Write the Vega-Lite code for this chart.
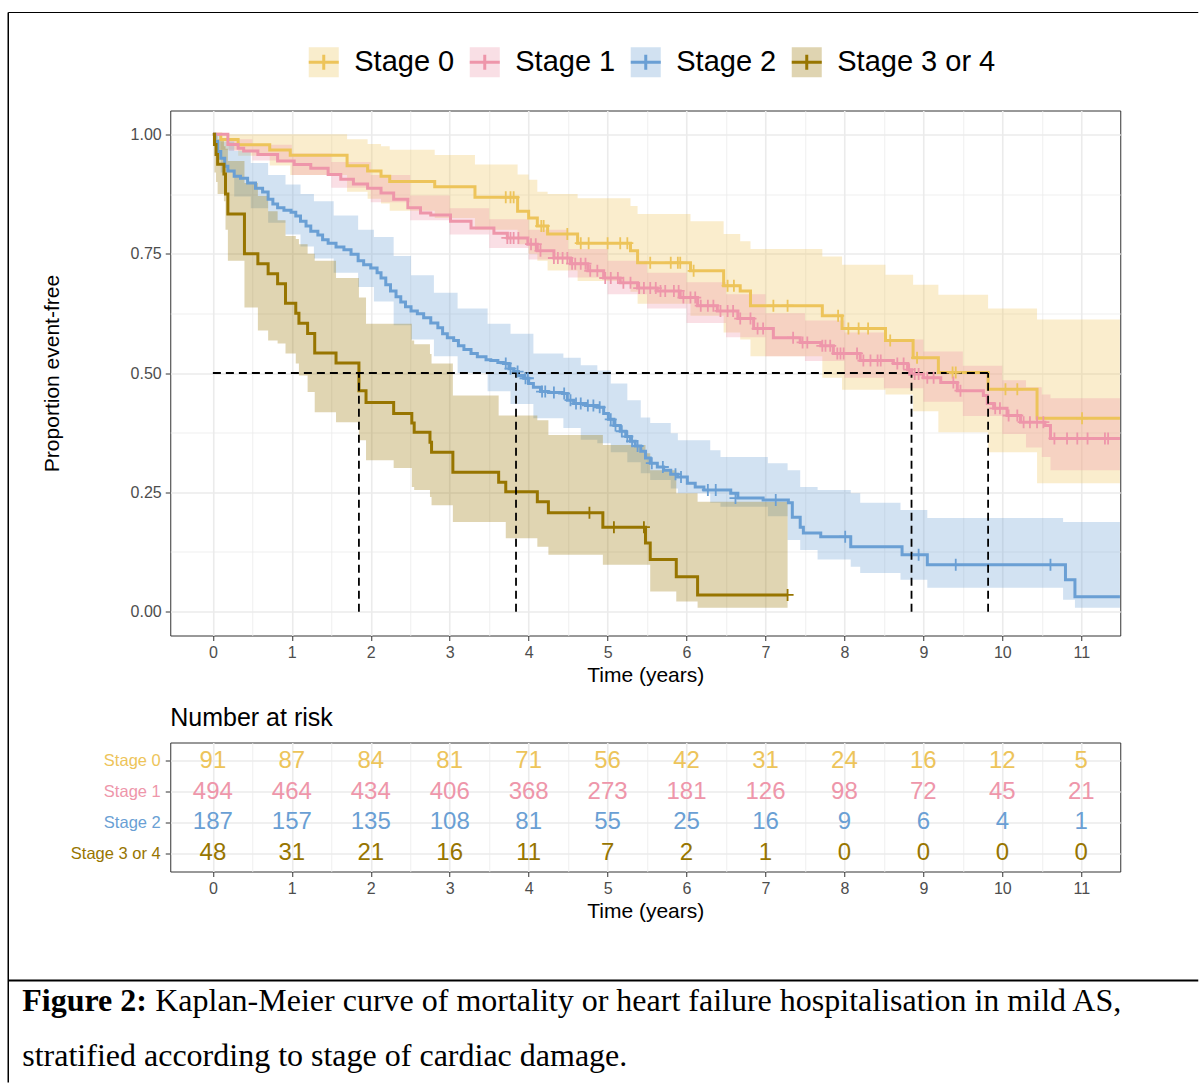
{
"$schema": "https://vega.github.io/schema/vega-lite/v6.json",
"background": "white",
"padding": {"left": 7.25, "top": 11.5, "right": 0, "bottom": 0},
"bounds": "flush",
"spacing": 107,
"resolve": {"scale": {"x": "independent", "y": "independent"}},
"config": {
  "font": "Liberation Sans",
  "view": {"stroke": "#333333", "strokeWidth": 1},
  "axis": {"domain": false, "labelFont": "Liberation Sans", "labelColor": "#4D4D4D", "labelFontSize": 16, "tickColor": "#333333", "tickSize": 5, "tickWidth": 1, "titleFont": "Liberation Sans", "titleFontSize": 21, "titleFontWeight": "normal", "titleColor": "#000000", "gridColor": "#EBEBEB", "labelOverlap": false, "labelFlush": false}
},
"datasets": {
"line": [
{"stage":"Stage 0","t":0,"s":1},{"stage":"Stage 0","t":0.10,"s":0.989},{"stage":"Stage 0","t":0.32,"s":0.978},{"stage":"Stage 0","t":0.72,"s":0.967},{"stage":"Stage 0","t":0.98,"s":0.956},{"stage":"Stage 0","t":1.70,"s":0.934},{"stage":"Stage 0","t":1.96,"s":0.923},{"stage":"Stage 0","t":2.13,"s":0.912},{"stage":"Stage 0","t":2.24,"s":0.901},{"stage":"Stage 0","t":2.81,"s":0.890},{"stage":"Stage 0","t":3.32,"s":0.868},{"stage":"Stage 0","t":3.86,"s":0.839},{"stage":"Stage 0","t":4.00,"s":0.825},{"stage":"Stage 0","t":4.11,"s":0.808},{"stage":"Stage 0","t":4.24,"s":0.791},{"stage":"Stage 0","t":4.62,"s":0.772},{"stage":"Stage 0","t":5.29,"s":0.756},{"stage":"Stage 0","t":5.38,"s":0.731},{"stage":"Stage 0","t":6.05,"s":0.714},{"stage":"Stage 0","t":6.47,"s":0.683},{"stage":"Stage 0","t":6.68,"s":0.672},{"stage":"Stage 0","t":6.81,"s":0.641},{"stage":"Stage 0","t":7.72,"s":0.620},{"stage":"Stage 0","t":7.97,"s":0.593},{"stage":"Stage 0","t":8.52,"s":0.568},{"stage":"Stage 0","t":8.87,"s":0.532},{"stage":"Stage 0","t":9.19,"s":0.501},{"stage":"Stage 0","t":9.82,"s":0.466},{"stage":"Stage 0","t":10.44,"s":0.405},{"stage":"Stage 0","t":11.49,"s":0.405},
{"stage":"Stage 1","t":0,"s":1},{"stage":"Stage 1","t":0.19,"s":0.979},{"stage":"Stage 1","t":0.32,"s":0.971},{"stage":"Stage 1","t":0.39,"s":0.965},{"stage":"Stage 1","t":0.57,"s":0.958},{"stage":"Stage 1","t":0.82,"s":0.944},{"stage":"Stage 1","t":1.03,"s":0.937},{"stage":"Stage 1","t":1.24,"s":0.929},{"stage":"Stage 1","t":1.46,"s":0.916},{"stage":"Stage 1","t":1.62,"s":0.906},{"stage":"Stage 1","t":1.78,"s":0.896},{"stage":"Stage 1","t":1.96,"s":0.887},{"stage":"Stage 1","t":2.13,"s":0.877},{"stage":"Stage 1","t":2.29,"s":0.864},{"stage":"Stage 1","t":2.47,"s":0.846},{"stage":"Stage 1","t":2.63,"s":0.835},{"stage":"Stage 1","t":2.76,"s":0.831},{"stage":"Stage 1","t":3.01,"s":0.818},{"stage":"Stage 1","t":3.27,"s":0.804},{"stage":"Stage 1","t":3.56,"s":0.793},{"stage":"Stage 1","t":3.73,"s":0.783},{"stage":"Stage 1","t":3.99,"s":0.770},{"stage":"Stage 1","t":4.11,"s":0.756},{"stage":"Stage 1","t":4.32,"s":0.741},{"stage":"Stage 1","t":4.53,"s":0.729},{"stage":"Stage 1","t":4.75,"s":0.714},{"stage":"Stage 1","t":4.95,"s":0.699},{"stage":"Stage 1","t":5.16,"s":0.689},{"stage":"Stage 1","t":5.38,"s":0.678},{"stage":"Stage 1","t":5.63,"s":0.672},{"stage":"Stage 1","t":5.92,"s":0.658},{"stage":"Stage 1","t":6.14,"s":0.641},{"stage":"Stage 1","t":6.39,"s":0.630},{"stage":"Stage 1","t":6.65,"s":0.614},{"stage":"Stage 1","t":6.85,"s":0.593},{"stage":"Stage 1","t":7.10,"s":0.574},{"stage":"Stage 1","t":7.44,"s":0.564},{"stage":"Stage 1","t":7.70,"s":0.557},{"stage":"Stage 1","t":7.86,"s":0.541},{"stage":"Stage 1","t":8.20,"s":0.526},{"stage":"Stage 1","t":8.62,"s":0.520},{"stage":"Stage 1","t":8.80,"s":0.507},{"stage":"Stage 1","t":8.85,"s":0.498},{"stage":"Stage 1","t":9.00,"s":0.490},{"stage":"Stage 1","t":9.22,"s":0.480},{"stage":"Stage 1","t":9.43,"s":0.463},{"stage":"Stage 1","t":9.76,"s":0.453},{"stage":"Stage 1","t":9.81,"s":0.436},{"stage":"Stage 1","t":9.89,"s":0.426},{"stage":"Stage 1","t":10.06,"s":0.411},{"stage":"Stage 1","t":10.23,"s":0.397},{"stage":"Stage 1","t":10.54,"s":0.390},{"stage":"Stage 1","t":10.61,"s":0.363},{"stage":"Stage 1","t":11.49,"s":0.363},
{"stage":"Stage 2","t":0,"s":1},{"stage":"Stage 2","t":0.025,"s":0.985},{"stage":"Stage 2","t":0.06,"s":0.964},{"stage":"Stage 2","t":0.10,"s":0.950},{"stage":"Stage 2","t":0.15,"s":0.933},{"stage":"Stage 2","t":0.19,"s":0.923},{"stage":"Stage 2","t":0.27,"s":0.912},{"stage":"Stage 2","t":0.35,"s":0.908},{"stage":"Stage 2","t":0.44,"s":0.898},{"stage":"Stage 2","t":0.54,"s":0.887},{"stage":"Stage 2","t":0.63,"s":0.879},{"stage":"Stage 2","t":0.70,"s":0.864},{"stage":"Stage 2","t":0.76,"s":0.854},{"stage":"Stage 2","t":0.82,"s":0.846},{"stage":"Stage 2","t":0.90,"s":0.841},{"stage":"Stage 2","t":0.99,"s":0.837},{"stage":"Stage 2","t":1.05,"s":0.829},{"stage":"Stage 2","t":1.11,"s":0.818},{"stage":"Stage 2","t":1.18,"s":0.808},{"stage":"Stage 2","t":1.24,"s":0.797},{"stage":"Stage 2","t":1.33,"s":0.789},{"stage":"Stage 2","t":1.39,"s":0.779},{"stage":"Stage 2","t":1.46,"s":0.772},{"stage":"Stage 2","t":1.56,"s":0.764},{"stage":"Stage 2","t":1.66,"s":0.758},{"stage":"Stage 2","t":1.75,"s":0.749},{"stage":"Stage 2","t":1.84,"s":0.735},{"stage":"Stage 2","t":1.91,"s":0.727},{"stage":"Stage 2","t":2.00,"s":0.720},{"stage":"Stage 2","t":2.08,"s":0.710},{"stage":"Stage 2","t":2.13,"s":0.699},{"stage":"Stage 2","t":2.19,"s":0.685},{"stage":"Stage 2","t":2.25,"s":0.672},{"stage":"Stage 2","t":2.32,"s":0.660},{"stage":"Stage 2","t":2.38,"s":0.649},{"stage":"Stage 2","t":2.44,"s":0.639},{"stage":"Stage 2","t":2.51,"s":0.630},{"stage":"Stage 2","t":2.59,"s":0.624},{"stage":"Stage 2","t":2.67,"s":0.616},{"stage":"Stage 2","t":2.76,"s":0.605},{"stage":"Stage 2","t":2.85,"s":0.595},{"stage":"Stage 2","t":2.91,"s":0.582},{"stage":"Stage 2","t":2.97,"s":0.574},{"stage":"Stage 2","t":3.05,"s":0.568},{"stage":"Stage 2","t":3.11,"s":0.557},{"stage":"Stage 2","t":3.18,"s":0.549},{"stage":"Stage 2","t":3.27,"s":0.541},{"stage":"Stage 2","t":3.35,"s":0.534},{"stage":"Stage 2","t":3.46,"s":0.528},{"stage":"Stage 2","t":3.52,"s":0.526},{"stage":"Stage 2","t":3.61,"s":0.522},{"stage":"Stage 2","t":3.68,"s":0.520},{"stage":"Stage 2","t":3.75,"s":0.509},{"stage":"Stage 2","t":3.81,"s":0.503},{"stage":"Stage 2","t":3.87,"s":0.495},{"stage":"Stage 2","t":3.94,"s":0.489},{"stage":"Stage 2","t":4.00,"s":0.478},{"stage":"Stage 2","t":4.06,"s":0.470},{"stage":"Stage 2","t":4.15,"s":0.461},{"stage":"Stage 2","t":4.25,"s":0.459},{"stage":"Stage 2","t":4.43,"s":0.457},{"stage":"Stage 2","t":4.49,"s":0.443},{"stage":"Stage 2","t":4.57,"s":0.436},{"stage":"Stage 2","t":4.72,"s":0.432},{"stage":"Stage 2","t":4.87,"s":0.428},{"stage":"Stage 2","t":4.95,"s":0.415},{"stage":"Stage 2","t":5.01,"s":0.403},{"stage":"Stage 2","t":5.08,"s":0.390},{"stage":"Stage 2","t":5.16,"s":0.378},{"stage":"Stage 2","t":5.23,"s":0.367},{"stage":"Stage 2","t":5.29,"s":0.357},{"stage":"Stage 2","t":5.35,"s":0.347},{"stage":"Stage 2","t":5.42,"s":0.336},{"stage":"Stage 2","t":5.48,"s":0.322},{"stage":"Stage 2","t":5.54,"s":0.311},{"stage":"Stage 2","t":5.63,"s":0.303},{"stage":"Stage 2","t":5.71,"s":0.296},{"stage":"Stage 2","t":5.80,"s":0.288},{"stage":"Stage 2","t":5.89,"s":0.282},{"stage":"Stage 2","t":6.01,"s":0.269},{"stage":"Stage 2","t":6.11,"s":0.261},{"stage":"Stage 2","t":6.22,"s":0.255},{"stage":"Stage 2","t":6.56,"s":0.248},{"stage":"Stage 2","t":6.65,"s":0.238},{"stage":"Stage 2","t":6.97,"s":0.234},{"stage":"Stage 2","t":7.29,"s":0.228},{"stage":"Stage 2","t":7.34,"s":0.198},{"stage":"Stage 2","t":7.44,"s":0.177},{"stage":"Stage 2","t":7.48,"s":0.165},{"stage":"Stage 2","t":7.70,"s":0.157},{"stage":"Stage 2","t":8.08,"s":0.136},{"stage":"Stage 2","t":8.73,"s":0.119},{"stage":"Stage 2","t":9.05,"s":0.098},{"stage":"Stage 2","t":10.80,"s":0.067},{"stage":"Stage 2","t":10.92,"s":0.031},{"stage":"Stage 2","t":11.49,"s":0.031},
{"stage":"Stage 3 or 4","t":0,"s":1},{"stage":"Stage 3 or 4","t":0.02,"s":0.979},{"stage":"Stage 3 or 4","t":0.04,"s":0.958},{"stage":"Stage 3 or 4","t":0.06,"s":0.9375},{"stage":"Stage 3 or 4","t":0.14,"s":0.917},{"stage":"Stage 3 or 4","t":0.16,"s":0.875},{"stage":"Stage 3 or 4","t":0.19,"s":0.833},{"stage":"Stage 3 or 4","t":0.40,"s":0.75},{"stage":"Stage 3 or 4","t":0.57,"s":0.729},{"stage":"Stage 3 or 4","t":0.70,"s":0.708},{"stage":"Stage 3 or 4","t":0.82,"s":0.687},{"stage":"Stage 3 or 4","t":0.92,"s":0.646},{"stage":"Stage 3 or 4","t":1.05,"s":0.625},{"stage":"Stage 3 or 4","t":1.09,"s":0.604},{"stage":"Stage 3 or 4","t":1.20,"s":0.583},{"stage":"Stage 3 or 4","t":1.29,"s":0.542},{"stage":"Stage 3 or 4","t":1.56,"s":0.521},{"stage":"Stage 3 or 4","t":1.85,"s":0.463},{"stage":"Stage 3 or 4","t":1.94,"s":0.438},{"stage":"Stage 3 or 4","t":2.29,"s":0.415},{"stage":"Stage 3 or 4","t":2.52,"s":0.395},{"stage":"Stage 3 or 4","t":2.55,"s":0.376},{"stage":"Stage 3 or 4","t":2.75,"s":0.355},{"stage":"Stage 3 or 4","t":2.77,"s":0.334},{"stage":"Stage 3 or 4","t":3.04,"s":0.292},{"stage":"Stage 3 or 4","t":3.62,"s":0.271},{"stage":"Stage 3 or 4","t":3.71,"s":0.251},{"stage":"Stage 3 or 4","t":4.11,"s":0.230},{"stage":"Stage 3 or 4","t":4.25,"s":0.207},{"stage":"Stage 3 or 4","t":4.94,"s":0.177},{"stage":"Stage 3 or 4","t":5.48,"s":0.144},{"stage":"Stage 3 or 4","t":5.54,"s":0.109},{"stage":"Stage 3 or 4","t":5.87,"s":0.073},{"stage":"Stage 3 or 4","t":6.14,"s":0.035},{"stage":"Stage 3 or 4","t":7.28,"s":0.035}
],
"band": [
{"stage":"Stage 0","t":0,"lo":1,"hi":1},{"stage":"Stage 0","t":0.10,"lo":0.968,"hi":1},{"stage":"Stage 0","t":0.32,"lo":0.955,"hi":1},{"stage":"Stage 0","t":0.72,"lo":0.935,"hi":1},{"stage":"Stage 0","t":0.98,"lo":0.915,"hi":1},{"stage":"Stage 0","t":1.70,"lo":0.88,"hi":0.99},{"stage":"Stage 0","t":1.96,"lo":0.865,"hi":0.98},{"stage":"Stage 0","t":2.13,"lo":0.855,"hi":0.975},{"stage":"Stage 0","t":2.24,"lo":0.84,"hi":0.968},{"stage":"Stage 0","t":2.81,"lo":0.825,"hi":0.957},{"stage":"Stage 0","t":3.32,"lo":0.80,"hi":0.937},{"stage":"Stage 0","t":3.86,"lo":0.77,"hi":0.916},{"stage":"Stage 0","t":4.00,"lo":0.75,"hi":0.905},{"stage":"Stage 0","t":4.11,"lo":0.735,"hi":0.88},{"stage":"Stage 0","t":4.24,"lo":0.715,"hi":0.875},{"stage":"Stage 0","t":4.62,"lo":0.693,"hi":0.866},{"stage":"Stage 0","t":5.29,"lo":0.67,"hi":0.85},{"stage":"Stage 0","t":5.38,"lo":0.645,"hi":0.833},{"stage":"Stage 0","t":6.05,"lo":0.62,"hi":0.818},{"stage":"Stage 0","t":6.47,"lo":0.585,"hi":0.791},{"stage":"Stage 0","t":6.68,"lo":0.57,"hi":0.776},{"stage":"Stage 0","t":6.81,"lo":0.535,"hi":0.76},{"stage":"Stage 0","t":7.72,"lo":0.49,"hi":0.744},{"stage":"Stage 0","t":7.97,"lo":0.465,"hi":0.727},{"stage":"Stage 0","t":8.52,"lo":0.455,"hi":0.706},{"stage":"Stage 0","t":8.87,"lo":0.42,"hi":0.685},{"stage":"Stage 0","t":9.19,"lo":0.376,"hi":0.664},{"stage":"Stage 0","t":9.82,"lo":0.334,"hi":0.635},{"stage":"Stage 0","t":10.44,"lo":0.269,"hi":0.612},{"stage":"Stage 0","t":11.49,"lo":0.269,"hi":0.612},
{"stage":"Stage 1","t":0,"lo":1,"hi":1},{"stage":"Stage 1","t":0.2,"lo":0.965,"hi":0.99},{"stage":"Stage 1","t":0.5,"lo":0.945,"hi":0.978},{"stage":"Stage 1","t":1.0,"lo":0.915,"hi":0.96},{"stage":"Stage 1","t":1.5,"lo":0.888,"hi":0.942},{"stage":"Stage 1","t":2.0,"lo":0.858,"hi":0.915},{"stage":"Stage 1","t":2.5,"lo":0.82,"hi":0.872},{"stage":"Stage 1","t":3.0,"lo":0.79,"hi":0.845},{"stage":"Stage 1","t":3.5,"lo":0.762,"hi":0.822},{"stage":"Stage 1","t":4.0,"lo":0.738,"hi":0.80},{"stage":"Stage 1","t":4.5,"lo":0.70,"hi":0.76},{"stage":"Stage 1","t":5.0,"lo":0.665,"hi":0.735},{"stage":"Stage 1","t":5.5,"lo":0.635,"hi":0.71},{"stage":"Stage 1","t":6.0,"lo":0.605,"hi":0.69},{"stage":"Stage 1","t":6.5,"lo":0.575,"hi":0.665},{"stage":"Stage 1","t":7.0,"lo":0.535,"hi":0.625},{"stage":"Stage 1","t":7.5,"lo":0.525,"hi":0.61},{"stage":"Stage 1","t":8.0,"lo":0.49,"hi":0.585},{"stage":"Stage 1","t":8.5,"lo":0.468,"hi":0.57},{"stage":"Stage 1","t":9.0,"lo":0.44,"hi":0.545},{"stage":"Stage 1","t":9.5,"lo":0.41,"hi":0.515},{"stage":"Stage 1","t":10.0,"lo":0.372,"hi":0.485},{"stage":"Stage 1","t":10.3,"lo":0.344,"hi":0.47},{"stage":"Stage 1","t":10.5,"lo":0.324,"hi":0.455},{"stage":"Stage 1","t":10.61,"lo":0.296,"hi":0.447},{"stage":"Stage 1","t":11.49,"lo":0.296,"hi":0.447},
{"stage":"Stage 2","t":0,"lo":1,"hi":1},{"stage":"Stage 2","t":0.04,"lo":0.96,"hi":1},{"stage":"Stage 2","t":0.10,"lo":0.92,"hi":0.985},{"stage":"Stage 2","t":0.27,"lo":0.87,"hi":0.965},{"stage":"Stage 2","t":0.48,"lo":0.845,"hi":0.94},{"stage":"Stage 2","t":0.70,"lo":0.815,"hi":0.915},{"stage":"Stage 2","t":0.92,"lo":0.79,"hi":0.895},{"stage":"Stage 2","t":1.11,"lo":0.765,"hi":0.875},{"stage":"Stage 2","t":1.28,"lo":0.74,"hi":0.86},{"stage":"Stage 2","t":1.53,"lo":0.71,"hi":0.83},{"stage":"Stage 2","t":1.84,"lo":0.68,"hi":0.80},{"stage":"Stage 2","t":2.04,"lo":0.65,"hi":0.785},{"stage":"Stage 2","t":2.29,"lo":0.60,"hi":0.745},{"stage":"Stage 2","t":2.51,"lo":0.57,"hi":0.705},{"stage":"Stage 2","t":2.80,"lo":0.535,"hi":0.668},{"stage":"Stage 2","t":3.10,"lo":0.50,"hi":0.635},{"stage":"Stage 2","t":3.48,"lo":0.462,"hi":0.603},{"stage":"Stage 2","t":3.77,"lo":0.435,"hi":0.582},{"stage":"Stage 2","t":4.06,"lo":0.405,"hi":0.541},{"stage":"Stage 2","t":4.44,"lo":0.385,"hi":0.532},{"stage":"Stage 2","t":4.66,"lo":0.36,"hi":0.516},{"stage":"Stage 2","t":4.87,"lo":0.353,"hi":0.505},{"stage":"Stage 2","t":5.04,"lo":0.334,"hi":0.478},{"stage":"Stage 2","t":5.25,"lo":0.313,"hi":0.443},{"stage":"Stage 2","t":5.42,"lo":0.29,"hi":0.407},{"stage":"Stage 2","t":5.54,"lo":0.276,"hi":0.395},{"stage":"Stage 2","t":5.80,"lo":0.258,"hi":0.374},{"stage":"Stage 2","t":5.89,"lo":0.248,"hi":0.359},{"stage":"Stage 2","t":6.30,"lo":0.228,"hi":0.338},{"stage":"Stage 2","t":6.43,"lo":0.22,"hi":0.324},{"stage":"Stage 2","t":7.03,"lo":0.20,"hi":0.311},{"stage":"Stage 2","t":7.28,"lo":0.15,"hi":0.296},{"stage":"Stage 2","t":7.44,"lo":0.129,"hi":0.261},{"stage":"Stage 2","t":7.66,"lo":0.109,"hi":0.255},{"stage":"Stage 2","t":8.08,"lo":0.094,"hi":0.248},{"stage":"Stage 2","t":8.20,"lo":0.081,"hi":0.228},{"stage":"Stage 2","t":8.71,"lo":0.067,"hi":0.213},{"stage":"Stage 2","t":9.05,"lo":0.05,"hi":0.196},{"stage":"Stage 2","t":10.77,"lo":0.025,"hi":0.188},{"stage":"Stage 2","t":10.92,"lo":0.008,"hi":0.188},{"stage":"Stage 2","t":11.49,"lo":0.008,"hi":0.186},
{"stage":"Stage 3 or 4","t":0,"lo":1,"hi":1},{"stage":"Stage 3 or 4","t":0.02,"lo":0.92,"hi":1},{"stage":"Stage 3 or 4","t":0.04,"lo":0.90,"hi":1},{"stage":"Stage 3 or 4","t":0.06,"lo":0.875,"hi":0.99},{"stage":"Stage 3 or 4","t":0.14,"lo":0.86,"hi":0.975},{"stage":"Stage 3 or 4","t":0.16,"lo":0.80,"hi":0.97},{"stage":"Stage 3 or 4","t":0.19,"lo":0.735,"hi":0.944},{"stage":"Stage 3 or 4","t":0.40,"lo":0.637,"hi":0.898},{"stage":"Stage 3 or 4","t":0.57,"lo":0.589,"hi":0.871},{"stage":"Stage 3 or 4","t":0.70,"lo":0.568,"hi":0.839},{"stage":"Stage 3 or 4","t":0.82,"lo":0.562,"hi":0.82},{"stage":"Stage 3 or 4","t":0.92,"lo":0.541,"hi":0.787},{"stage":"Stage 3 or 4","t":1.05,"lo":0.52,"hi":0.781},{"stage":"Stage 3 or 4","t":1.09,"lo":0.495,"hi":0.77},{"stage":"Stage 3 or 4","t":1.20,"lo":0.46,"hi":0.75},{"stage":"Stage 3 or 4","t":1.29,"lo":0.418,"hi":0.735},{"stage":"Stage 3 or 4","t":1.56,"lo":0.397,"hi":0.699},{"stage":"Stage 3 or 4","t":1.85,"lo":0.359,"hi":0.658},{"stage":"Stage 3 or 4","t":1.94,"lo":0.317,"hi":0.603},{"stage":"Stage 3 or 4","t":2.29,"lo":0.301,"hi":0.603},{"stage":"Stage 3 or 4","t":2.52,"lo":0.261,"hi":0.568},{"stage":"Stage 3 or 4","t":2.55,"lo":0.255,"hi":0.56},{"stage":"Stage 3 or 4","t":2.75,"lo":0.24,"hi":0.54},{"stage":"Stage 3 or 4","t":2.77,"lo":0.223,"hi":0.52},{"stage":"Stage 3 or 4","t":3.04,"lo":0.188,"hi":0.453},{"stage":"Stage 3 or 4","t":3.62,"lo":0.188,"hi":0.411},{"stage":"Stage 3 or 4","t":3.71,"lo":0.154,"hi":0.411},{"stage":"Stage 3 or 4","t":4.11,"lo":0.136,"hi":0.401},{"stage":"Stage 3 or 4","t":4.25,"lo":0.119,"hi":0.37},{"stage":"Stage 3 or 4","t":4.94,"lo":0.098,"hi":0.349},{"stage":"Stage 3 or 4","t":5.48,"lo":0.098,"hi":0.332},{"stage":"Stage 3 or 4","t":5.54,"lo":0.042,"hi":0.296},{"stage":"Stage 3 or 4","t":5.87,"lo":0.021,"hi":0.248},{"stage":"Stage 3 or 4","t":6.14,"lo":0.008,"hi":0.23},{"stage":"Stage 3 or 4","t":7.28,"lo":0.008,"hi":0.23}
],
"censor": [
{"stage":"Stage 0","t":3.71,"s":0.868},{"stage":"Stage 0","t":3.77,"s":0.868},{"stage":"Stage 0","t":3.81,"s":0.868},{"stage":"Stage 0","t":4.16,"s":0.808},{"stage":"Stage 0","t":4.19,"s":0.808},{"stage":"Stage 0","t":4.49,"s":0.791},{"stage":"Stage 0","t":4.66,"s":0.772},{"stage":"Stage 0","t":4.76,"s":0.772},{"stage":"Stage 0","t":5.00,"s":0.772},{"stage":"Stage 0","t":5.16,"s":0.772},{"stage":"Stage 0","t":5.25,"s":0.772},{"stage":"Stage 0","t":5.54,"s":0.731},{"stage":"Stage 0","t":5.80,"s":0.731},{"stage":"Stage 0","t":5.89,"s":0.731},{"stage":"Stage 0","t":5.92,"s":0.731},{"stage":"Stage 0","t":6.09,"s":0.714},{"stage":"Stage 0","t":6.52,"s":0.683},{"stage":"Stage 0","t":6.60,"s":0.683},{"stage":"Stage 0","t":7.10,"s":0.641},{"stage":"Stage 0","t":7.28,"s":0.641},{"stage":"Stage 0","t":7.92,"s":0.620},{"stage":"Stage 0","t":8.05,"s":0.593},{"stage":"Stage 0","t":8.18,"s":0.593},{"stage":"Stage 0","t":8.30,"s":0.593},{"stage":"Stage 0","t":8.58,"s":0.568},{"stage":"Stage 0","t":8.92,"s":0.532},{"stage":"Stage 0","t":9.37,"s":0.501},{"stage":"Stage 0","t":9.41,"s":0.501},{"stage":"Stage 0","t":10.04,"s":0.466},{"stage":"Stage 0","t":10.19,"s":0.466},{"stage":"Stage 0","t":11.01,"s":0.405},
{"stage":"Stage 1","t":3.73,"s":0.783},{"stage":"Stage 1","t":3.77,"s":0.783},{"stage":"Stage 1","t":3.81,"s":0.783},{"stage":"Stage 1","t":3.87,"s":0.783},{"stage":"Stage 1","t":4.03,"s":0.770},{"stage":"Stage 1","t":4.09,"s":0.770},{"stage":"Stage 1","t":4.15,"s":0.756},{"stage":"Stage 1","t":4.32,"s":0.741},{"stage":"Stage 1","t":4.37,"s":0.741},{"stage":"Stage 1","t":4.43,"s":0.741},{"stage":"Stage 1","t":4.49,"s":0.741},{"stage":"Stage 1","t":4.55,"s":0.729},{"stage":"Stage 1","t":4.59,"s":0.729},{"stage":"Stage 1","t":4.66,"s":0.729},{"stage":"Stage 1","t":4.72,"s":0.729},{"stage":"Stage 1","t":4.78,"s":0.714},{"stage":"Stage 1","t":4.87,"s":0.714},{"stage":"Stage 1","t":4.97,"s":0.699},{"stage":"Stage 1","t":5.04,"s":0.699},{"stage":"Stage 1","t":5.13,"s":0.699},{"stage":"Stage 1","t":5.20,"s":0.689},{"stage":"Stage 1","t":5.29,"s":0.689},{"stage":"Stage 1","t":5.40,"s":0.678},{"stage":"Stage 1","t":5.46,"s":0.678},{"stage":"Stage 1","t":5.54,"s":0.678},{"stage":"Stage 1","t":5.61,"s":0.678},{"stage":"Stage 1","t":5.67,"s":0.672},{"stage":"Stage 1","t":5.73,"s":0.672},{"stage":"Stage 1","t":5.84,"s":0.672},{"stage":"Stage 1","t":5.90,"s":0.672},{"stage":"Stage 1","t":5.96,"s":0.658},{"stage":"Stage 1","t":6.05,"s":0.658},{"stage":"Stage 1","t":6.11,"s":0.658},{"stage":"Stage 1","t":6.18,"s":0.641},{"stage":"Stage 1","t":6.27,"s":0.641},{"stage":"Stage 1","t":6.34,"s":0.641},{"stage":"Stage 1","t":6.43,"s":0.630},{"stage":"Stage 1","t":6.52,"s":0.630},{"stage":"Stage 1","t":6.59,"s":0.630},{"stage":"Stage 1","t":6.68,"s":0.614},{"stage":"Stage 1","t":6.81,"s":0.614},{"stage":"Stage 1","t":6.90,"s":0.593},{"stage":"Stage 1","t":6.97,"s":0.593},{"stage":"Stage 1","t":7.35,"s":0.574},{"stage":"Stage 1","t":7.47,"s":0.564},{"stage":"Stage 1","t":7.53,"s":0.564},{"stage":"Stage 1","t":7.72,"s":0.557},{"stage":"Stage 1","t":7.76,"s":0.557},{"stage":"Stage 1","t":7.82,"s":0.557},{"stage":"Stage 1","t":7.91,"s":0.541},{"stage":"Stage 1","t":7.95,"s":0.541},{"stage":"Stage 1","t":7.99,"s":0.541},{"stage":"Stage 1","t":8.16,"s":0.541},{"stage":"Stage 1","t":8.24,"s":0.526},{"stage":"Stage 1","t":8.33,"s":0.526},{"stage":"Stage 1","t":8.42,"s":0.526},{"stage":"Stage 1","t":8.46,"s":0.526},{"stage":"Stage 1","t":8.67,"s":0.520},{"stage":"Stage 1","t":8.75,"s":0.520},{"stage":"Stage 1","t":8.82,"s":0.507},{"stage":"Stage 1","t":8.89,"s":0.498},{"stage":"Stage 1","t":8.94,"s":0.498},{"stage":"Stage 1","t":9.05,"s":0.490},{"stage":"Stage 1","t":9.13,"s":0.490},{"stage":"Stage 1","t":9.38,"s":0.480},{"stage":"Stage 1","t":9.47,"s":0.463},{"stage":"Stage 1","t":9.91,"s":0.426},{"stage":"Stage 1","t":9.97,"s":0.426},{"stage":"Stage 1","t":10.08,"s":0.411},{"stage":"Stage 1","t":10.19,"s":0.411},{"stage":"Stage 1","t":10.27,"s":0.397},{"stage":"Stage 1","t":10.35,"s":0.397},{"stage":"Stage 1","t":10.44,"s":0.397},{"stage":"Stage 1","t":10.52,"s":0.397},{"stage":"Stage 1","t":10.66,"s":0.363},{"stage":"Stage 1","t":10.82,"s":0.363},{"stage":"Stage 1","t":10.95,"s":0.363},{"stage":"Stage 1","t":11.08,"s":0.363},{"stage":"Stage 1","t":11.30,"s":0.363},{"stage":"Stage 1","t":11.34,"s":0.363},
{"stage":"Stage 2","t":3.71,"s":0.520},{"stage":"Stage 2","t":3.77,"s":0.509},{"stage":"Stage 2","t":3.86,"s":0.503},{"stage":"Stage 2","t":3.96,"s":0.489},{"stage":"Stage 2","t":3.99,"s":0.489},{"stage":"Stage 2","t":4.17,"s":0.461},{"stage":"Stage 2","t":4.21,"s":0.461},{"stage":"Stage 2","t":4.32,"s":0.459},{"stage":"Stage 2","t":4.45,"s":0.457},{"stage":"Stage 2","t":4.53,"s":0.443},{"stage":"Stage 2","t":4.60,"s":0.436},{"stage":"Stage 2","t":4.66,"s":0.436},{"stage":"Stage 2","t":4.75,"s":0.432},{"stage":"Stage 2","t":4.82,"s":0.432},{"stage":"Stage 2","t":4.90,"s":0.428},{"stage":"Stage 2","t":5.04,"s":0.403},{"stage":"Stage 2","t":5.10,"s":0.390},{"stage":"Stage 2","t":5.18,"s":0.378},{"stage":"Stage 2","t":5.25,"s":0.367},{"stage":"Stage 2","t":5.31,"s":0.357},{"stage":"Stage 2","t":5.38,"s":0.347},{"stage":"Stage 2","t":5.56,"s":0.311},{"stage":"Stage 2","t":5.70,"s":0.303},{"stage":"Stage 2","t":5.86,"s":0.288},{"stage":"Stage 2","t":5.93,"s":0.282},{"stage":"Stage 2","t":6.27,"s":0.255},{"stage":"Stage 2","t":6.37,"s":0.255},{"stage":"Stage 2","t":6.62,"s":0.238},{"stage":"Stage 2","t":7.13,"s":0.234},{"stage":"Stage 2","t":8.01,"s":0.157},{"stage":"Stage 2","t":8.94,"s":0.119},{"stage":"Stage 2","t":9.41,"s":0.098},{"stage":"Stage 2","t":10.61,"s":0.098},
{"stage":"Stage 3 or 4","t":4.77,"s":0.207},{"stage":"Stage 3 or 4","t":5.08,"s":0.177},{"stage":"Stage 3 or 4","t":5.46,"s":0.177},{"stage":"Stage 3 or 4","t":7.28,"s":0.035}
],
"median": [
{"t0":0,"t1":9.82,"s0":0.5,"s1":0.5},
{"t0":1.85,"t1":1.85,"s0":0,"s1":0.5},
{"t0":3.84,"t1":3.84,"s0":0,"s1":0.5},
{"t0":8.85,"t1":8.85,"s0":0,"s1":0.5},
{"t0":9.82,"t1":9.82,"s0":0,"s1":0.5}
],
"risk": [
{"stage":"Stage 0","t":0,"n":91},{"stage":"Stage 0","t":1,"n":87},{"stage":"Stage 0","t":2,"n":84},{"stage":"Stage 0","t":3,"n":81},{"stage":"Stage 0","t":4,"n":71},{"stage":"Stage 0","t":5,"n":56},{"stage":"Stage 0","t":6,"n":42},{"stage":"Stage 0","t":7,"n":31},{"stage":"Stage 0","t":8,"n":24},{"stage":"Stage 0","t":9,"n":16},{"stage":"Stage 0","t":10,"n":12},{"stage":"Stage 0","t":11,"n":5},
{"stage":"Stage 1","t":0,"n":494},{"stage":"Stage 1","t":1,"n":464},{"stage":"Stage 1","t":2,"n":434},{"stage":"Stage 1","t":3,"n":406},{"stage":"Stage 1","t":4,"n":368},{"stage":"Stage 1","t":5,"n":273},{"stage":"Stage 1","t":6,"n":181},{"stage":"Stage 1","t":7,"n":126},{"stage":"Stage 1","t":8,"n":98},{"stage":"Stage 1","t":9,"n":72},{"stage":"Stage 1","t":10,"n":45},{"stage":"Stage 1","t":11,"n":21},
{"stage":"Stage 2","t":0,"n":187},{"stage":"Stage 2","t":1,"n":157},{"stage":"Stage 2","t":2,"n":135},{"stage":"Stage 2","t":3,"n":108},{"stage":"Stage 2","t":4,"n":81},{"stage":"Stage 2","t":5,"n":55},{"stage":"Stage 2","t":6,"n":25},{"stage":"Stage 2","t":7,"n":16},{"stage":"Stage 2","t":8,"n":9},{"stage":"Stage 2","t":9,"n":6},{"stage":"Stage 2","t":10,"n":4},{"stage":"Stage 2","t":11,"n":1},
{"stage":"Stage 3 or 4","t":0,"n":48},{"stage":"Stage 3 or 4","t":1,"n":31},{"stage":"Stage 3 or 4","t":2,"n":21},{"stage":"Stage 3 or 4","t":3,"n":16},{"stage":"Stage 3 or 4","t":4,"n":11},{"stage":"Stage 3 or 4","t":5,"n":7},{"stage":"Stage 3 or 4","t":6,"n":2},{"stage":"Stage 3 or 4","t":7,"n":1},{"stage":"Stage 3 or 4","t":8,"n":0},{"stage":"Stage 3 or 4","t":9,"n":0},{"stage":"Stage 3 or 4","t":10,"n":0},{"stage":"Stage 3 or 4","t":11,"n":0}
]
},
"vconcat": [
{
 "width": 950, "height": 525,
 "layer": [
  {"data": {"name": "band"},
   "mark": {"type": "area", "interpolate": "step-after", "opacity": 0.3},
   "encoding": {
    "x": {"field": "t", "type": "quantitative", "scale": {"domain": [-0.54, 11.494], "nice": false, "zero": false},
      "axis": {"title": "Time (years)", "values": [0,0.5,1,1.5,2,2.5,3,3.5,4,4.5,5,5.5,6,6.5,7,7.5,8,8.5,9,9.5,10,10.5,11],
        "labelExpr": "datum.value % 1 === 0 ? format(datum.value, 'd') : ''", "grid": true,
        "gridWidth": {"condition": {"test": "datum.value % 1 !== 0", "value": 0.8}, "value": 1.6},
        "tickOpacity": {"condition": {"test": "datum.value % 1 !== 0", "value": 0}, "value": 1},
        "labelPadding": 4, "titlePadding": 4}},
    "y": {"field": "hi", "type": "quantitative", "scale": {"domain": [-0.05, 1.05], "nice": false, "zero": false},
      "axis": {"title": "Proportion event-free", "values": [0,0.125,0.25,0.375,0.5,0.625,0.75,0.875,1],
        "labelExpr": "(datum.value * 4) % 1 === 0 ? format(datum.value, '.2f') : ''", "grid": true,
        "gridWidth": {"condition": {"test": "(datum.value * 4) % 1 !== 0", "value": 0.8}, "value": 1.6},
        "tickOpacity": {"condition": {"test": "(datum.value * 4) % 1 !== 0", "value": 0}, "value": 1},
        "labelPadding": 4, "titlePadding": 68}},
    "y2": {"field": "lo"},
    "fill": {"field": "stage", "type": "nominal",
      "scale": {"range": ["#EDC45A", "#EE96AA", "#6A9FD4", "#977500"]},
      "legend": {"orient": "none", "legendX": 137, "legendY": -65, "direction": "horizontal", "title": null,
        "symbolType": "square", "symbolSize": 900, "symbolOpacity": 0.3, "symbolStrokeColor": "transparent", "symbolStrokeWidth": 3,
        "labelOpacity": 0, "labelFontSize": 29, "labelFont": "Liberation Sans", "labelOffset": 14, "columnPadding": 9, "padding": 0, "labelLimit": 400}}
   }},
  {"data": {"name": "line"},
   "mark": {"type": "line", "interpolate": "step-after", "strokeWidth": 3},
   "encoding": {
    "x": {"field": "t", "type": "quantitative"},
    "y": {"field": "s", "type": "quantitative"},
    "stroke": {"field": "stage", "type": "nominal",
      "scale": {"domain": ["Stage 0", "Stage 1", "Stage 2", "Stage 3 or 4"], "range": ["#EDC45A", "#EE96AA", "#6A9FD4", "#977500"]},
      "legend": {"orient": "none", "legendX": 137, "legendY": -65, "direction": "horizontal", "title": null,
        "symbolType": "M-1,0H1M0,-0.5V0.5", "symbolSize": 900, "symbolStrokeWidth": 3,
        "labelFontSize": 29, "labelFont": "Liberation Sans", "labelColor": "#000000", "labelOffset": 14, "columnPadding": 9, "padding": 0, "labelLimit": 400}}
   }},
  {"data": {"name": "median"},
   "mark": {"type": "rule", "strokeDash": [8, 5], "strokeWidth": 1.8, "color": "#000000"},
   "encoding": {
    "x": {"field": "t0", "type": "quantitative"}, "x2": {"field": "t1"},
    "y": {"field": "s0", "type": "quantitative"}, "y2": {"field": "s1"}
   }},
  {"data": {"name": "censor"},
   "mark": {"type": "point", "shape": "M-1,0H1M0,-1V1", "filled": false, "size": 144, "strokeWidth": 1.8, "opacity": 1},
   "encoding": {
    "x": {"field": "t", "type": "quantitative"},
    "y": {"field": "s", "type": "quantitative"},
    "stroke": {"field": "stage", "type": "nominal"}
   }}
 ]
},
{
 "width": 950, "height": 129,
 "title": {"text": "Number at risk", "anchor": "start", "frame": "group", "fontSize": 25, "fontWeight": "normal", "font": "Liberation Sans", "color": "#000000", "baseline": "alphabetic", "offset": -8},
 "data": {"name": "risk"},
 "mark": {"type": "text", "fontSize": 24, "font": "Liberation Sans", "baseline": "middle", "align": "center"},
 "encoding": {
  "x": {"field": "t", "type": "quantitative", "scale": {"domain": [-0.54, 11.494], "nice": false, "zero": false},
    "axis": {"title": "Time (years)", "values": [0,0.5,1,1.5,2,2.5,3,3.5,4,4.5,5,5.5,6,6.5,7,7.5,8,8.5,9,9.5,10,10.5,11],
      "labelExpr": "datum.value % 1 === 0 ? format(datum.value, 'd') : ''", "grid": true,
      "gridWidth": {"condition": {"test": "datum.value % 1 !== 0", "value": 0.8}, "value": 1.6},
      "tickOpacity": {"condition": {"test": "datum.value % 1 !== 0", "value": 0}, "value": 1},
      "labelPadding": 4, "titlePadding": 4}},
  "y": {"field": "stage", "type": "nominal",
    "scale": {"type": "point", "padding": 0.6, "domain": ["Stage 0", "Stage 1", "Stage 2", "Stage 3 or 4"]},
    "axis": {"title": null, "grid": true, "gridWidth": 1.6, "labelFontSize": 16.5, "labelPadding": 5,
      "labelColor": {"condition": [
        {"test": "datum.value === 'Stage 0'", "value": "#EDC45A"},
        {"test": "datum.value === 'Stage 1'", "value": "#EE96AA"},
        {"test": "datum.value === 'Stage 2'", "value": "#6A9FD4"}], "value": "#977500"}}},
  "text": {"field": "n", "type": "quantitative"},
  "color": {"field": "stage", "type": "nominal",
    "scale": {"domain": ["Stage 0", "Stage 1", "Stage 2", "Stage 3 or 4"], "range": ["#EDC45A", "#EE96AA", "#6A9FD4", "#977500"]},
    "legend": null}
 }
},
{
 "width": 1028, "height": 104,
 "view": {"stroke": null},
 "data": {"values": [{}]},
 "layer": [
  {"mark": {"type": "rule", "color": "#000000", "strokeWidth": 1},
   "encoding": {
    "x": {"datum": 0, "type": "quantitative", "scale": {"domain": [0, 1], "range": [-162, 1028], "nice": false, "zero": false}, "axis": null},
    "x2": {"datum": 1},
    "y": {"datum": 0, "type": "quantitative", "scale": {"domain": [0, 1], "range": [-966, 104], "nice": false, "zero": false}, "axis": null}
   }},
  {"mark": {"type": "rule", "color": "#000000", "strokeWidth": 1.5},
   "encoding": {
    "x": {"datum": 0, "type": "quantitative"},
    "y": {"datum": 0, "type": "quantitative"},
    "y2": {"datum": 1}
   }},
  {"mark": {"type": "rule", "color": "#000000", "strokeWidth": 2},
   "encoding": {
    "x": {"datum": 0, "type": "quantitative"},
    "x2": {"datum": 1},
    "y": {"datum": 0.9047, "type": "quantitative"}
   }},
  {"mark": {"type": "text", "font": "Liberation Serif", "fontSize": 32, "fontWeight": "bold", "align": "left", "baseline": "alphabetic", "color": "#000000", "text": "Figure 2:"},
   "encoding": {
    "x": {"datum": 0.01176, "type": "quantitative"},
    "y": {"datum": 0.9336, "type": "quantitative"}
   }},
  {"mark": {"type": "text", "font": "Liberation Serif", "fontSize": 32, "align": "left", "baseline": "alphabetic", "color": "#000000", "text": "Kaplan-Meier curve of mortality or heart failure hospitalisation in mild AS,"},
   "encoding": {
    "x": {"datum": 0.1235, "type": "quantitative"},
    "y": {"datum": 0.9336, "type": "quantitative"}
   }},
  {"mark": {"type": "text", "font": "Liberation Serif", "fontSize": 32, "align": "left", "baseline": "alphabetic", "color": "#000000", "text": "stratified according to stage of cardiac damage."},
   "encoding": {
    "x": {"datum": 0.01176, "type": "quantitative"},
    "y": {"datum": 0.985, "type": "quantitative"}
   }}
 ]
}
]
}
